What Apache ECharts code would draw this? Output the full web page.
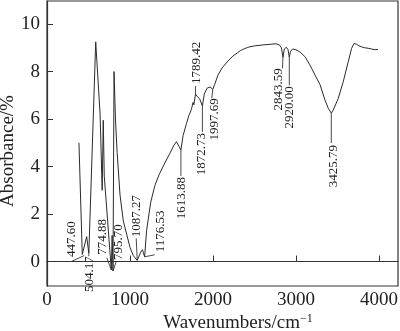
<!DOCTYPE html>
<html>
<head>
<meta charset="utf-8">
<script src="https://cdn.jsdelivr.net/npm/echarts@6/dist/echarts.min.js"></script>
<style>
  html, body { margin: 0; padding: 0; background: #fff; }
  #chart { width: 400px; height: 331px; }
</style>
</head>
<body>
<div id="chart"></div>
<script>
// FTIR absorbance spectrum
const wavenumbers = [
  385, 425, 447.60, 478, 504.17, 587, 640, 665, 678, 690, 774.88, 785, 795.70, 808,
  825, 845, 880, 920, 960, 1000, 1040, 1087.27, 1130, 1150, 1176.53, 1200, 1250, 1300,
  1350, 1420, 1480, 1530, 1560, 1590, 1613.88, 1640, 1680, 1710, 1740, 1760, 1770,
  1789.42, 1810, 1840, 1872.73, 1895, 1930, 1965, 1997.69, 2020, 2060, 2110, 2170,
  2240, 2300, 2330, 2345, 2360, 2420, 2500, 2600, 2700, 2760, 2800, 2825, 2843.59,
  2860, 2885, 2905, 2920.00, 2935, 2960, 3000, 3050, 3110, 3170, 3230, 3290, 3350,
  3390, 3425.79, 3450, 3510, 3570, 3630, 3671, 3700, 3711, 3730, 3745, 3760, 3775,
  3790, 3810, 3830, 3850, 3870, 3890, 3910, 3930, 3950, 3970, 3990
];
const absorbance = [
  5.0, 0.3, 0.25, 1.05, 0.35, 9.25, 6.2, 3.0, 5.95, 3.6, -0.35, 1.1, -0.4, 8.0,
  6.0, 4.6, 2.8, 1.7, 1.15, 0.6, 0.25, 0.05, 0.4, 0.5, 0.2, 1.3, 2.5, 3.2,
  3.65, 4.15, 4.55, 4.9, 5.05, 4.85, 4.7, 5.3, 5.8, 6.15, 6.4, 6.7, 6.6,
  7.05, 6.95, 6.85, 6.55, 7.05, 7.3, 7.35, 7.25, 7.45, 7.85, 8.15, 8.4,
  8.65, 8.8, 8.88, 8.82, 8.93, 9.02, 9.08, 9.12, 9.15, 9.17, 9.12, 9.0, 8.6,
  8.95, 9.02, 8.92, 8.6, 8.85, 8.95, 8.92, 8.82, 8.62, 8.27, 7.85, 7.45, 6.8,
  6.45, 6.25, 6.38, 6.87, 7.57, 8.41, 8.98, 9.18, 9.25, 9.15, 9.2, 9.08, 9.13,
  9.04, 9.1, 9.0, 9.06, 8.98, 9.03, 8.95, 9.0, 8.92, 8.97, 8.93
];

// Annotated band positions (cm-1)
const peakLabels = [
  447.60, 504.17, 774.88, 795.70, 1087.27, 1176.53, 1613.88,
  1789.42, 1872.73, 1997.69, 2843.59, 2920.00, 3425.79
];

// Tick values
const xTicks = [0, 1000, 2000, 3000, 4000];
const yTicks = [0, 2, 4, 6, 8, 10];

// Label layout: leader-line end and text start, in px relative to the band point
const leaderEnds = [
  [-12, 5.5], [0, 3], [-4.5, -12], [3, -9], [-1, -22], [10, -2], [0, 26],
  [0, -8], [0, 26], [-1, 9], [-0.5, 11], [0, 28], [0, 30]
];
const textStarts = [
  [-12.5, 1.5, 'up'], [0.5, 3, 'down'], [-9, -15, 'up'], [6, -11, 'up'],
  [-0.5, -23, 'up'], [16, -4.5, 'up'], [1, 27, 'down'], [1, -10, 'up'],
  [-0.5, 27, 'down'], [2, 9, 'down'], [-4, 11, 'down'], [0.6, 29, 'down'],
  [2, 32, 'down']
];

function absorbanceAt(wn) {
  for (let i = 0; i < wavenumbers.length - 1; i++) {
    const a = wavenumbers[i], b = wavenumbers[i + 1];
    if (wn >= a && wn <= b) {
      const t = (wn - a) / (b - a);
      return absorbance[i] + t * (absorbance[i + 1] - absorbance[i]);
    }
  }
  return absorbance[absorbance.length - 1];
}

const spectrum = wavenumbers.map((w, i) => [w, absorbance[i]]);
const bands = peakLabels.map((w, i) => [w, absorbanceAt(w), i]);

const serif = 'Liberation Serif';
const ink = '#222';
const plain = v => String(v);

const chart = echarts.init(document.getElementById('chart'), null, { renderer: 'canvas' });
chart.setOption({
  animation: false,
  backgroundColor: '#fff',
  grid: {
    left: 47, right: 2, top: 1, bottom: 45,
    containLabel: false,
    outerBoundsMode: 'none',
    show: true, borderColor: '#333', borderWidth: 1.2, backgroundColor: 'transparent'
  },
  xAxis: {
    type: 'value',
    min: 0, max: 4230,
    name: 'Wavenumbers/cm{sup|\u22121}',
    nameLocation: 'middle',
    nameGap: 27,
    nameMoveOverlap: false,
    nameTextStyle: {
      fontFamily: serif, fontSize: 19, color: ink, padding: [0, 0, 0, 31],
      rich: { sup: { fontFamily: serif, fontSize: 12, color: ink, verticalAlign: 'top', padding: [0, 0, 9, 0] } }
    },
    axisLine: { show: true, lineStyle: { color: '#333', width: 1.2 } },
    axisTick: { show: true, inside: true, length: 6, customValues: xTicks, lineStyle: { color: '#333' } },
    axisLabel: { customValues: xTicks, formatter: plain, margin: 5, fontFamily: serif, fontSize: 19, color: ink },
    splitLine: { show: false }
  },
  yAxis: {
    type: 'value',
    min: -1.03, max: 10.97,
    name: 'Absorbance/%',
    nameLocation: 'middle',
    nameGap: 29,
    nameMoveOverlap: false,
    nameTextStyle: { fontFamily: serif, fontSize: 19, color: ink, padding: [0, 15, 0, 0] },
    axisLine: { show: true, lineStyle: { color: '#333', width: 1.2 } },
    axisTick: { show: true, inside: true, length: 6, customValues: yTicks, lineStyle: { color: '#333' } },
    axisLabel: { customValues: yTicks, formatter: plain, margin: 7, fontFamily: serif, fontSize: 19, color: ink },
    splitLine: { show: false }
  },
  series: [
    {
      type: 'line',
      data: spectrum,
      showSymbol: false,
      lineStyle: { color: '#2b2b2b', width: 1 },
      silent: true
    },
    {
      type: 'custom',
      data: bands,
      silent: true,
      renderItem: function (params, api) {
        const p = api.coord([api.value(0), api.value(1)]);
        const i = api.value(2);
        const le = leaderEnds[i];
        const ts = textStarts[i];
        return {
          type: 'group',
          children: [
            {
              type: 'line',
              shape: { x1: p[0], y1: p[1], x2: p[0] + le[0], y2: p[1] + le[1] },
              style: { stroke: '#333', lineWidth: 0.9 }
            },
            {
              type: 'text',
              x: p[0] + ts[0],
              y: p[1] + ts[1],
              rotation: Math.PI / 2,
              style: {
                text: peakLabels[i].toFixed(2),
                fill: ink,
                fontFamily: serif,
                fontSize: 13,
                align: ts[2] === 'up' ? 'left' : 'right',
                verticalAlign: 'middle'
              }
            }
          ]
        };
      }
    }
  ]
});
</script>
</body>
</html>
